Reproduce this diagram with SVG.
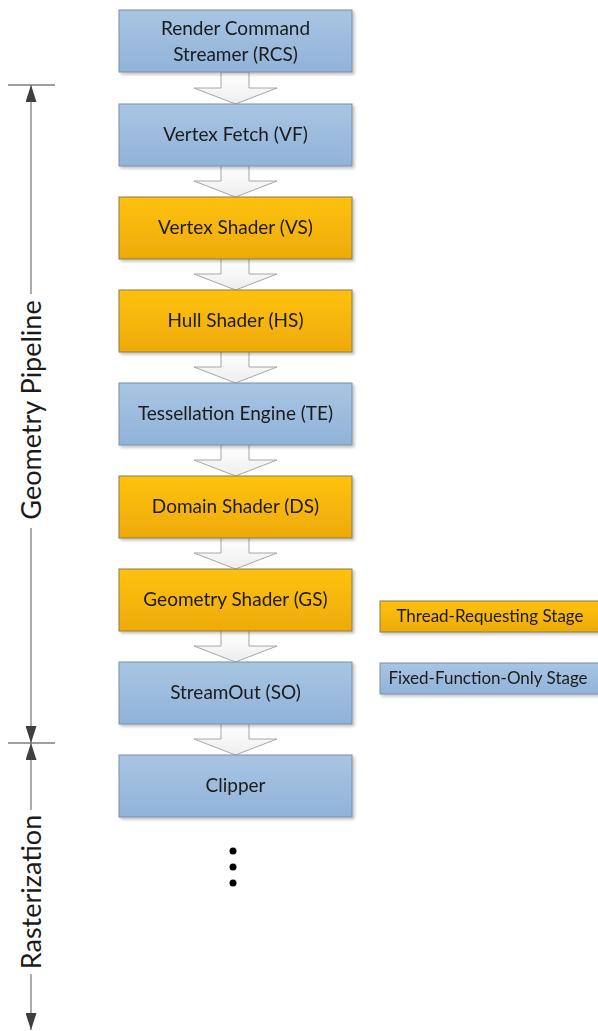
<svg xmlns="http://www.w3.org/2000/svg" width="598" height="1031" viewBox="0 0 598 1031">
<style>
.t{font-family:Lato,"Open Sans",sans-serif;font-size:19px;fill:#1a1a1a;text-anchor:middle}
.lg{font-family:Lato,"Open Sans",sans-serif;font-size:17px;fill:#1a1a1a;text-anchor:middle}
.side{font-family:Lato,"Open Sans",sans-serif;font-size:27px;fill:#1a1a1a;text-anchor:middle}
.blue{fill:url(#gb);stroke:#7b8fa3;stroke-width:1}
.orange{fill:url(#go);stroke:#8a7a55;stroke-width:1}
.arr{fill:url(#ga);stroke:#a6a6a6;stroke-width:1}
.dim{stroke:#7f7f7f;stroke-width:1.3;fill:none}
</style>
<defs>
<linearGradient id="gb" x1="0" y1="0" x2="0" y2="1"><stop offset="0" stop-color="#a9c5e3"/><stop offset="1" stop-color="#90b3d9"/></linearGradient>
<linearGradient id="go" x1="0" y1="0" x2="0" y2="1"><stop offset="0" stop-color="#fec20b"/><stop offset="1" stop-color="#eeaa06"/></linearGradient>
<linearGradient id="ga" x1="0" y1="0" x2="0" y2="1"><stop offset="0" stop-color="#ffffff"/><stop offset="1" stop-color="#eeeeee"/></linearGradient>
<filter id="sh" x="-5%" y="-10%" width="115%" height="130%"><feDropShadow dx="2" dy="2" stdDeviation="1.5" flood-color="#000" flood-opacity="0.25"/></filter>
<marker id="ah" viewBox="0 0 10 10" refX="10" refY="5" markerWidth="17" markerHeight="11" markerUnits="userSpaceOnUse" orient="auto-start-reverse" preserveAspectRatio="none"><path d="M0,0 L10,5 L0,10 z" fill="#3f3f3f"/></marker>
</defs>
<g id="connectors">
<path class="arr" d="M221,72 V88 H194 L235.5,104 L277,88 H249 V72 z"/>
<path class="arr" d="M221,165 V181 H194 L235.5,197 L277,181 H249 V165 z"/>
<path class="arr" d="M221,258 V274 H194 L235.5,290 L277,274 H249 V258 z"/>
<path class="arr" d="M221,351 V367 H194 L235.5,383 L277,367 H249 V351 z"/>
<path class="arr" d="M221,444 V460 H194 L235.5,476 L277,460 H249 V444 z"/>
<path class="arr" d="M221,537 V553 H194 L235.5,569 L277,553 H249 V537 z"/>
<path class="arr" d="M221,630 V646 H194 L235.5,662 L277,646 H249 V630 z"/>
<path class="arr" d="M221,723 V739 H194 L235.5,755 L277,739 H249 V723 z"/>
</g>
<g id="n1" filter="url(#sh)"><rect class="blue" x="119" y="10" width="233" height="62"/><text class="t" x="235.5" y="35">Render Command</text><text class="t" x="235.5" y="61">Streamer (RCS)</text></g>
<g id="n2" filter="url(#sh)"><rect class="blue" x="119" y="104" width="233" height="62"/><text class="t" x="235.5" y="141">Vertex Fetch (VF)</text></g>
<g id="n3" filter="url(#sh)"><rect class="orange" x="119" y="197" width="233" height="62"/><text class="t" x="235.5" y="234">Vertex Shader (VS)</text></g>
<g id="n4" filter="url(#sh)"><rect class="orange" x="119" y="290" width="233" height="62"/><text class="t" x="235.5" y="327">Hull Shader (HS)</text></g>
<g id="n5" filter="url(#sh)"><rect class="blue" x="119" y="383" width="233" height="62"/><text class="t" x="235.5" y="420">Tessellation Engine (TE)</text></g>
<g id="n6" filter="url(#sh)"><rect class="orange" x="119" y="476" width="233" height="62"/><text class="t" x="235.5" y="513">Domain Shader (DS)</text></g>
<g id="n7" filter="url(#sh)"><rect class="orange" x="119" y="569" width="233" height="62"/><text class="t" x="235.5" y="606">Geometry Shader (GS)</text></g>
<g id="n8" filter="url(#sh)"><rect class="blue" x="119" y="662" width="233" height="62"/><text class="t" x="235.5" y="699">StreamOut (SO)</text></g>
<g id="n9" filter="url(#sh)"><rect class="blue" x="119" y="755" width="233" height="62"/><text class="t" x="235.5" y="792">Clipper</text></g>
<g id="dots" fill="#000"><circle cx="233" cy="851" r="3.5"/><circle cx="233" cy="867" r="3.5"/><circle cx="233" cy="883" r="3.5"/></g>
<g id="legend1" filter="url(#sh)"><rect class="orange" x="380" y="601" width="222" height="31"/><text class="lg" x="490" y="622">Thread-Requesting Stage</text></g>
<g id="legend2" filter="url(#sh)"><rect class="blue" x="380" y="663" width="222" height="31"/><text class="lg" x="488" y="684">Fixed-Function-Only Stage</text></g>
<g id="dimension">
<line class="dim" x1="8" y1="85" x2="55" y2="85"/>
<line class="dim" x1="8" y1="743" x2="55" y2="743"/>
<line class="dim" x1="31" y1="294" x2="31" y2="85" marker-end="url(#ah)"/>
<line class="dim" x1="31" y1="528" x2="31" y2="743" marker-end="url(#ah)"/>
<line class="dim" x1="31" y1="810" x2="31" y2="743" marker-end="url(#ah)"/>
<line class="dim" x1="31" y1="974" x2="31" y2="1030" marker-end="url(#ah)"/>
<text class="side" transform="translate(41,410) rotate(-90)">Geometry Pipeline</text>
<text class="side" transform="translate(41,892) rotate(-90)">Rasterization</text>
</g>
</svg>
